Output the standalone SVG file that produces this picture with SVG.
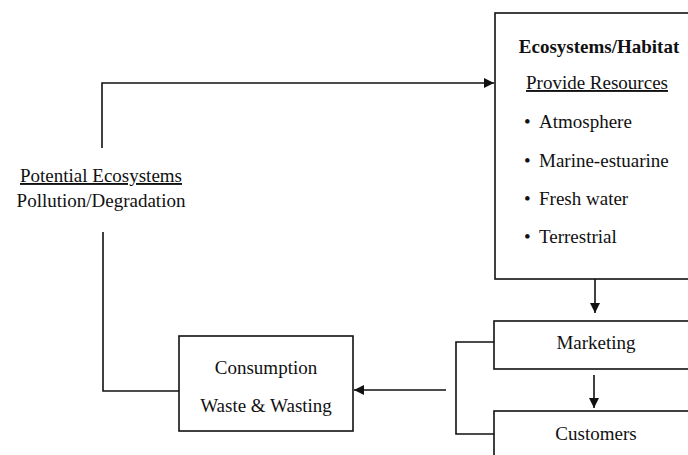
<svg xmlns="http://www.w3.org/2000/svg" width="688" height="455" viewBox="0 0 688 455">
<style>
.t{font-family:"Liberation Serif","Times New Roman",serif;font-size:19px;fill:#111}
.b{font-weight:bold}
.box{fill:#fff;stroke:#111;stroke-width:1.6}
.ln{fill:none;stroke:#111;stroke-width:1.6}
</style>
<defs>
<marker id="ah" viewBox="0 0 10 10" refX="10" refY="5" markerWidth="10" markerHeight="10" markerUnits="userSpaceOnUse" orient="auto">
<path d="M0,0 L10,5 L0,10 z" fill="#111"/>
</marker>
</defs>
<rect width="688" height="455" fill="#fff"/>
<g id="connectors">
<path class="ln" d="M102,148 V83 H494" marker-end="url(#ah)"/>
<path class="ln" d="M595,279 V313" marker-end="url(#ah)"/>
<path class="ln" d="M594,375 V408" marker-end="url(#ah)"/>
<path class="ln" d="M494,342 H456 V434 H494"/>
<path class="ln" d="M446,390 H354" marker-end="url(#ah)"/>
<path class="ln" d="M103,232 V391 H179"/>
</g>
<g id="ecosystems">
<rect class="box" x="495" y="13" width="200" height="266"/>
<text class="t b" x="599" y="53" text-anchor="middle">Ecosystems/Habitat</text>
<text class="t" x="597" y="89" text-anchor="middle" text-decoration="underline">Provide Resources</text>
<text class="t" x="524" y="128">•</text><text class="t" x="539" y="128">Atmosphere</text>
<text class="t" x="524" y="167">•</text><text class="t" x="539" y="167">Marine-estuarine</text>
<text class="t" x="524" y="205">•</text><text class="t" x="539" y="205">Fresh water</text>
<text class="t" x="524" y="243">•</text><text class="t" x="539" y="243">Terrestrial</text>
</g>
<g id="marketing">
<rect class="box" x="494" y="321" width="200" height="48"/>
<text class="t" x="596" y="349" text-anchor="middle">Marketing</text>
</g>
<g id="customers">
<rect class="box" x="494" y="411" width="200" height="60"/>
<text class="t" x="596" y="440" text-anchor="middle">Customers</text>
</g>
<g id="consumption">
<rect class="box" x="179" y="336" width="174" height="95"/>
<text class="t" x="266" y="374" text-anchor="middle">Consumption</text>
<text class="t" x="266" y="412" text-anchor="middle">Waste &amp; Wasting</text>
</g>
<g id="pollution">
<text class="t" x="101" y="182" text-anchor="middle" text-decoration="underline">Potential Ecosystems</text>
<text class="t" x="101" y="207" text-anchor="middle">Pollution/Degradation</text>
</g>
</svg>
